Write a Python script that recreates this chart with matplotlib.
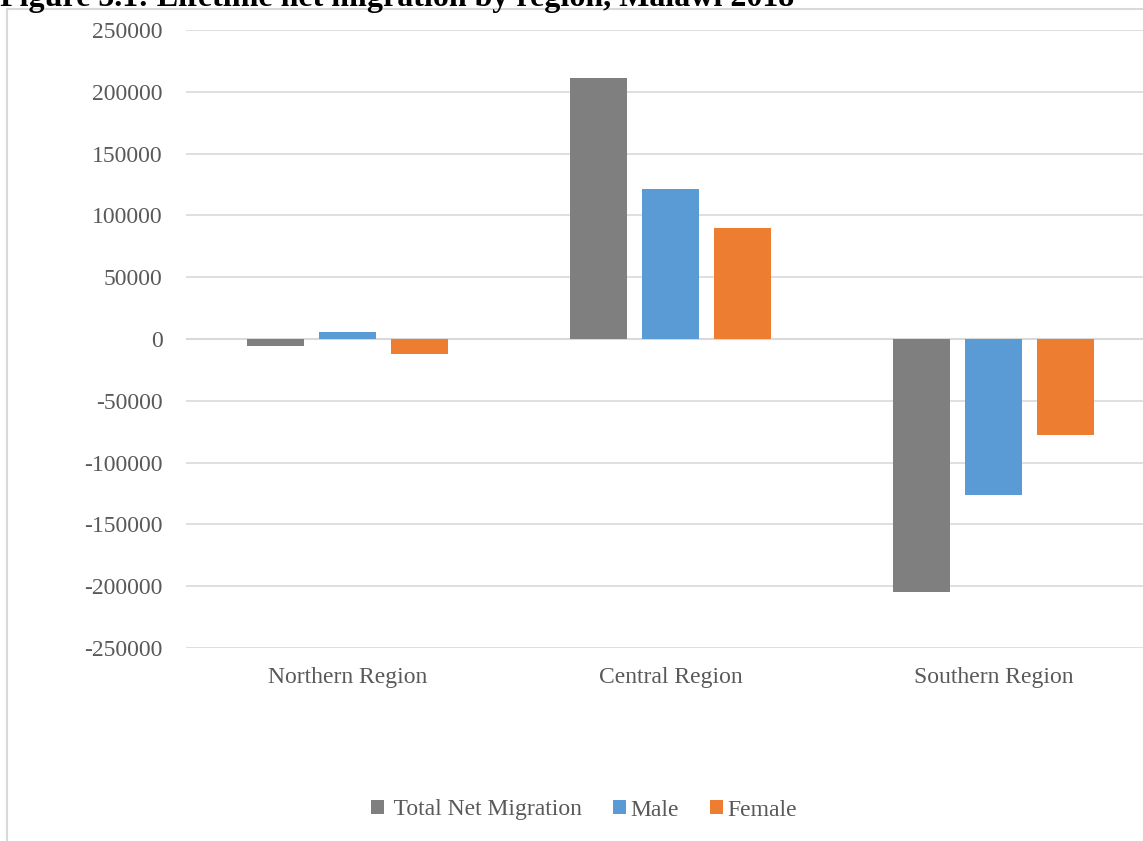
import matplotlib
matplotlib.use("Agg")
import matplotlib.pyplot as plt
from matplotlib.patches import Rectangle
import numpy as np

regions = ["Northern Region", "Central Region", "Southern Region"]
series_names = ["Total Net Migration", "Male", "Female"]
total = [-6000, 211000, -205000]
male = [6000, 121000, -126000]
female = [-12000, 90000, -78000]
colors = ["#7f7f7f", "#5b9bd5", "#ed7d31"]
yticks = [-250000, -200000, -150000, -100000, -50000, 0,
          50000, 100000, 150000, 200000, 250000]

plt.rcParams["font.family"] = ["Liberation Serif", "DejaVu Serif"]

W, H = 1143, 841
fig = plt.figure(figsize=(W / 100, H / 100), dpi=100)

# outer chart border (runs off the right and bottom)
fig.patches.append(Rectangle((7 / W, -0.1), 1.2, 1 - 9 / H + 0.1,
                             transform=fig.transFigure, fill=False,
                             edgecolor="#d9d9d9", linewidth=1.5, zorder=0))

ax = fig.add_axes([186 / W, 1 - 648 / H, (1155 - 186) / W, (648 - 30) / H])
x = np.arange(len(regions))
width = 0.176
step = 0.223
for i, (vals, name) in enumerate(zip([total, male, female], series_names)):
  # first legend entry sits a bit further from its marker in the original
  label = " " + name if i == 0 else name
  ax.bar(x + (i - 1) * step, vals, width, color=colors[i], label=label, zorder=3)

ax.set_xlim(-0.5, 2.5)
ax.set_ylim(-250000, 250000)
ax.set_yticks(yticks)
ax.set_yticklabels([str(t) for t in yticks])
ax.set_xticks(x)
ax.set_xticklabels(regions)
ax.yaxis.grid(True, color="#d9d9d9", linewidth=1.2, zorder=0)
ax.axhline(0, color="#d9d9d9", linewidth=1.5, zorder=2)
for s in ax.spines.values():
  s.set_visible(False)
ax.tick_params(axis="both", length=0, labelsize=17, labelcolor="#595959")
ax.tick_params(axis="y", pad=17)
ax.tick_params(axis="x", pad=14)

fig.legend(loc="center", bbox_to_anchor=(584 / W, 1 - 810 / H), ncol=3,
           frameon=False, fontsize=17, labelcolor="#595959",
           handlelength=0.55, handleheight=0.55, handletextpad=0.2,
           columnspacing=1.3)

fig.text(0, 1 - 6 / H, "Figure 5.1: Lifetime net migration by region, Malawi 2018",
         fontsize=23, fontweight="bold", va="baseline", ha="left")

fig.savefig("out.png", dpi=100)
